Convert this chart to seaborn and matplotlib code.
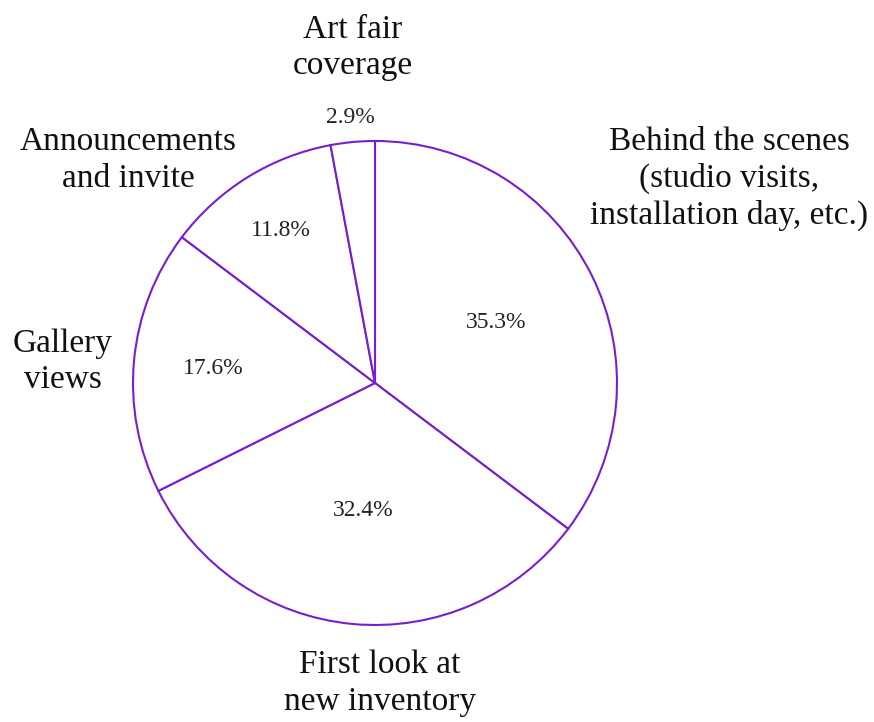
import numpy as np
import seaborn as sns
import matplotlib.pyplot as plt

# Share of posts by content type (counts out of 34)
categories = ["Behind the scenes\n(studio visits,\ninstallation day, etc.)",
              "First look at\nnew inventory",
              "Gallery\nviews",
              "Announcements\nand invite",
              "Art fair\ncoverage"]
counts = [12, 11, 6, 4, 1]

# layout of the labels (data units, pie radius = 1)
label_xy = [(1.463, 0.843), (0.021, -1.240), (-1.289, 0.087), (-1.021, 0.921), (-0.091, 1.386)]
pct_dist = [0.56, 0.53, 0.67, 0.74, 1.10]

sns.set_style("white")
plt.rcParams['font.family'] = ['Liberation Serif', 'DejaVu Serif']

purple = '#781ED2'
fig = plt.figure(figsize=(8.74, 7.22), dpi=100)
ax = fig.add_axes([0, 0, 1, 1])

wedges, texts, autotexts = ax.pie(
    counts, startangle=90, counterclock=False, colors=['white'] * len(counts),
    wedgeprops=dict(edgecolor=purple, linewidth=1.5),
    autopct='%1.1f%%', textprops=dict(fontsize=17, color='#222222'))

for w, t, d in zip(wedges, autotexts, pct_dist):
    mid = np.deg2rad((w.theta1 + w.theta2) / 2)
    t.set_position((d * np.cos(mid), d * np.sin(mid)))
    t.set_ha('center')
    t.set_va('center')

for lab, (x, y) in zip(categories, label_xy):
    ax.text(x, y, lab, ha='center', va='center', fontsize=24,
            color='#111111', linespacing=1.25, multialignment='center')

ax.set_xlim(-375 / 242, (874 - 375) / 242)
ax.set_ylim(-(722 - 383) / 242, 383 / 242)
ax.set_aspect('auto')
ax.axis('off')

fig.savefig('out.png', dpi=100)
